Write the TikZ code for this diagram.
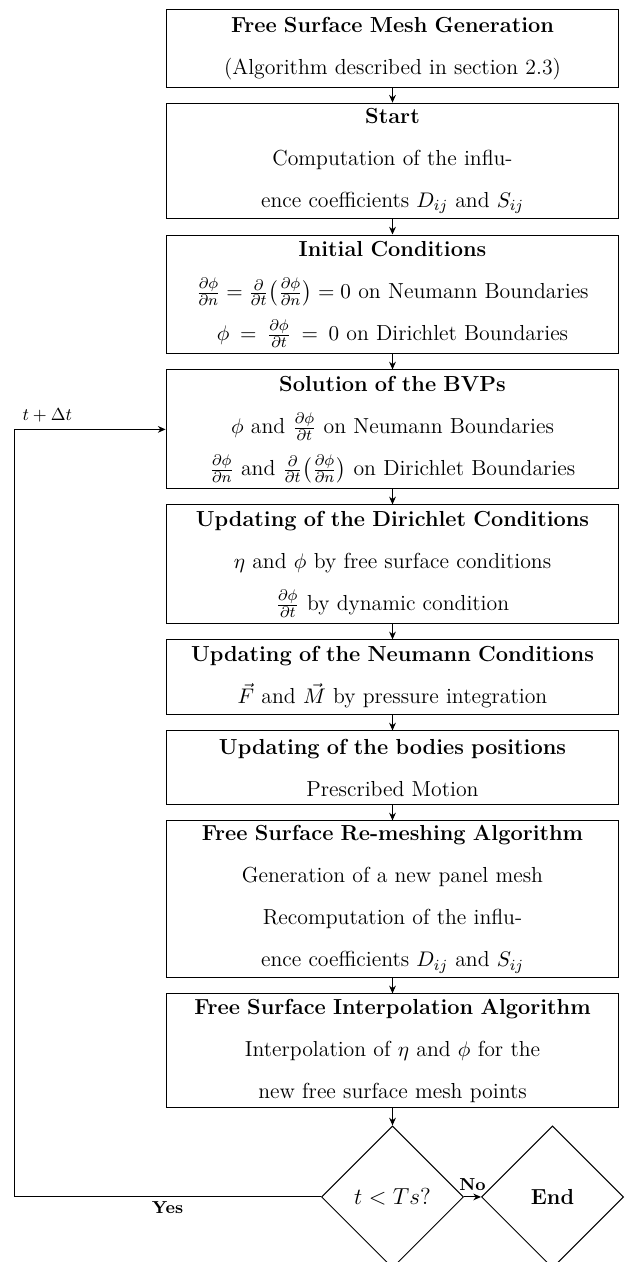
\documentclass[tikz,border=0pt]{standalone}
\usepackage{amsmath}
\usetikzlibrary{arrows.meta,positioning,shapes.geometric}

\begin{document}
\begin{tikzpicture}[x=0.518pt, y=-0.518pt, node distance=7.8pt, line width=0.5pt,
  box/.style={draw, align=center, text width=226.6pt, inner xsep=4pt, inner ysep=1pt,
    font=\fontsize{11.27pt}{21.75pt}\selectfont, execute at begin node={\thickmuskip=5mu\medmuskip=4mu}},
  test/.style={draw, diamond, aspect=1, minimum width=73.6pt, minimum height=73.6pt, inner sep=0pt},
  lbl/.style={font=\fontsize{9pt}{11pt}\selectfont\bfseries, inner sep=1pt},
  >={Stealth[length=4pt,width=3.5pt]}]
\useasboundingbox (0,0) rectangle (626,1262);
\node[box, minimum height=40pt] (mesh) at (392.5,48.5) {\textbf{Free Surface Mesh Generation}\\(Algorithm described in section 2.3)};
\node[box, minimum height=60pt, below=of mesh] (start) {\textbf{Start}\\Computation of the influ-\\ence coefficients $D_{ij}$ and $S_{ij}$};
\node[box, minimum height=61.6pt, below=of start] (init) {\textbf{Initial Conditions}\\$\frac{\partial\phi}{\partial n}=\frac{\partial}{\partial t}\bigl(\frac{\partial\phi}{\partial n}\bigr)=0$ on Neumann Boundaries\\$\phi\mkern4mu=\mkern4mu\frac{\partial\phi}{\partial t}\mkern4mu=\mkern4mu0$ on Dirichlet Boundaries};
\node[box, minimum height=61.6pt, below=of init] (bvp) {\textbf{Solution of the BVPs}\\$\phi$ and $\frac{\partial\phi}{\partial t}$ on Neumann Boundaries\\$\frac{\partial\phi}{\partial n}$ and $\frac{\partial}{\partial t}\bigl(\frac{\partial\phi}{\partial n}\bigr)$ on Dirichlet Boundaries};
\node[box, minimum height=61.6pt, below=of bvp] (dirich) {\textbf{Updating of the Dirichlet Conditions}\\$\eta$ and $\phi$ by free surface conditions\\$\frac{\partial\phi}{\partial t}$ by dynamic condition};
\node[box, minimum height=38.9pt, below=of dirich] (neum) {\textbf{Updating of the Neumann Conditions}\\$\vec{F}$ and $\vec{M}$ by pressure integration};
\node[box, minimum height=38.3pt, below=of neum] (bodies) {\textbf{Updating of the bodies positions}\\Prescribed Motion};
\node[box, minimum height=81.3pt, below=of bodies] (remesh) {\textbf{Free Surface Re-meshing Algorithm}\\Generation of a new panel mesh\\Recomputation of the influ-\\ence coefficients $D_{ij}$ and $S_{ij}$};
\node[box, minimum height=59.1pt, below=of remesh] (interp) {\textbf{Free Surface Interpolation Algorithm}\\Interpolation of $\eta$ and $\phi$ for the\\new free surface mesh points};
\node[test, below=8.8pt of interp, font=\fontsize{12pt}{14pt}\selectfont] (check) {$t<Ts?$};
\node[test, right=8.8pt of check, font=\fontsize{11.27pt}{14pt}\selectfont\bfseries] (stop) {End};
\coordinate (back) at (14,0);
% main sequence
\draw[->] (mesh) -- (start);
\draw[->] (start) -- (init);
\draw[->] (init) -- (bvp);
\draw[->] (bvp) -- (dirich);
\draw[->] (dirich) -- (neum);
\draw[->] (neum) -- (bodies);
\draw[->] (bodies) -- (remesh);
\draw[->] (remesh) -- (interp);
\draw[->] (interp) -- (check);
\draw[->] (check) -- node[lbl, above=2pt] {No} (stop);
% time loop
\draw[->] (check.west) -- node[lbl, below=1pt] {Yes} (check.west -| back) |- node[pos=0.61, above, font=\fontsize{9pt}{11pt}\selectfont] {$t+\Delta t$} (bvp.west);
\end{tikzpicture}
\end{document}
